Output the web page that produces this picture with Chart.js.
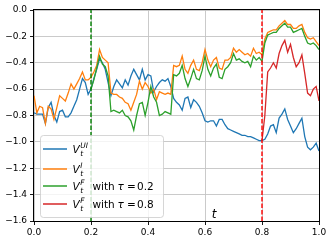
<!DOCTYPE html>
<html lang="en">
<head>
    <meta charset="UTF-8">
    <title>Value trajectories</title>
    <script src="https://cdn.jsdelivr.net/npm/chart.js"></script>
    <style>
        body { margin: 0; background: #fff; }
        canvas { display: block; }
    </style>
</head>
<body>
    <canvas id="valueChart" width="333" height="242"></canvas>

    <script>
        // time grid, step 0.01
        const tGrid = Array.from({ length: 101 }, (_, i) => i / 100);

        const vUI = [
            -0.78, -0.79, -0.79, -0.79, -0.86, -0.74, -0.70, -0.80, -0.85, -0.77,
            -0.76, -0.81, -0.81, -0.78, -0.73, -0.68, -0.60, -0.52, -0.55, -0.64,
            -0.60, -0.52, -0.45, -0.37, -0.40, -0.45, -0.55, -0.65, -0.58, -0.53,
            -0.56, -0.59, -0.53, -0.57, -0.50, -0.45, -0.49, -0.53, -0.45, -0.53,
            -0.49, -0.50, -0.62, -0.58, -0.55, -0.53, -0.54, -0.52, -0.58, -0.67,
            -0.70, -0.72, -0.76, -0.67, -0.66, -0.74, -0.68, -0.70, -0.73, -0.78,
            -0.84, -0.85, -0.84, -0.84, -0.88, -0.83, -0.83, -0.87, -0.90, -0.91,
            -0.92, -0.93, -0.94, -0.95, -0.95, -0.96, -0.96, -0.97, -0.98, -0.99,
            -0.99, -0.98, -0.94, -0.88, -0.87, -0.93, -0.82, -0.79, -0.75, -0.83,
            -0.88, -0.93, -0.90, -0.86, -0.82, -0.96, -1.04, -1.06, -1.04, -1.01, -1.07
        ];

        const vI = [
            -0.65, -0.78, -0.73, -0.74, -0.86, -0.73, -0.75, -0.83, -0.74, -0.65,
            -0.67, -0.69, -0.63, -0.56, -0.60, -0.56, -0.52, -0.47, -0.53, -0.53,
            -0.51, -0.47, -0.42, -0.30, -0.36, -0.38, -0.40, -0.63, -0.64, -0.64,
            -0.66, -0.67, -0.70, -0.71, -0.76, -0.70, -0.64, -0.54, -0.60, -0.55,
            -0.58, -0.63, -0.60, -0.68, -0.62, -0.63, -0.64, -0.63, -0.64, -0.42,
            -0.43, -0.42, -0.35, -0.45, -0.48, -0.42, -0.38, -0.45, -0.46, -0.40,
            -0.30, -0.38, -0.43, -0.38, -0.36, -0.44, -0.45, -0.38, -0.38, -0.36,
            -0.29, -0.32, -0.30, -0.32, -0.34, -0.33, -0.35, -0.29, -0.33, -0.32,
            -0.34, -0.22, -0.17, -0.16, -0.15, -0.15, -0.12, -0.10, -0.08, -0.11,
            -0.11, -0.14, -0.14, -0.12, -0.11, -0.17, -0.21, -0.22, -0.21, -0.24, -0.27
        ];

        // tau = 0.2, starts at t = 0.20
        const vF02 = [
            -0.60, -0.53, -0.44, -0.35, -0.41, -0.43, -0.50, -0.77, -0.76, -0.77,
            -0.78, -0.76, -0.80, -0.81, -0.84, -0.91, -0.80, -0.71, -0.70, -0.80,
            -0.70, -0.58, -0.66, -0.70, -0.80, -0.79, -0.77, -0.78, -0.79, -0.49,
            -0.50, -0.48, -0.42, -0.52, -0.58, -0.52, -0.45, -0.52, -0.53, -0.46,
            -0.35, -0.45, -0.50, -0.44, -0.41, -0.51, -0.52, -0.45, -0.43, -0.40,
            -0.33, -0.38, -0.37, -0.39, -0.40, -0.39, -0.43, -0.35, -0.38, -0.36,
            -0.39, -0.25, -0.19, -0.18, -0.17, -0.17, -0.14, -0.12, -0.10, -0.13,
            -0.13, -0.17, -0.16, -0.15, -0.14, -0.20, -0.25, -0.26, -0.25, -0.27, -0.30
        ];

        // tau = 0.8, starts at t = 0.80
        const vF08 = [
            -0.99, -0.80, -0.47, -0.44, -0.40, -0.44, -0.33, -0.27, -0.23, -0.32,
            -0.26, -0.36, -0.43, -0.40, -0.34, -0.48, -0.63, -0.65, -0.60, -0.58, -0.69
        ];

        const taus = [0.2, 0.8];
        const tauColors = ['#008000', '#ff0000'];
        const seriesColors = ['#1f77b4', '#ff7f0e', '#2ca02c', '#d62728'];
        const xTicks = [0, 0.2, 0.4, 0.6, 0.8, 1.0];
        const yRange = [-1.6, 0];

        function toPoints(values, start) {
            const offset = Math.round(start * 100);
            return values.map((v, i) => ({ x: tGrid[offset + i], y: v }));
        }

        function fmt(v) {
            if (Math.abs(v) < 1e-9) return '0.0';
            return (v < 0 ? '\u2212' : '') + Math.abs(v).toFixed(1);
        }

        const FONT = "'DejaVu Sans', sans-serif";

        // full box around the axes
        const framePlugin = {
            id: 'frame',
            afterDatasetsDraw(chart) {
                const { ctx, chartArea: a } = chart;
                ctx.save();
                ctx.strokeStyle = '#000';
                ctx.lineWidth = 1;
                ctx.strokeRect(a.left - 0.5, a.top - 0.5, a.right - a.left + 1, a.bottom - a.top + 1);
                ctx.restore();
            }
        };

        // legend with math labels, drawn like matplotlib's
        const mathLegend = {
            id: 'mathLegend',
            afterDraw(chart) {
                const ctx = chart.ctx;
                const rows = [
                    { color: seriesColors[0], sup: 'UI', y: 149 },
                    { color: seriesColors[1], sup: 'I', y: 169 },
                    { color: seriesColors[2], sup: 'F', y: 186, tau: '0.2' },
                    { color: seriesColors[3], sup: 'F', y: 204, tau: '0.8' }
                ];
                ctx.save();
                ctx.beginPath();
                ctx.roundRect(40.5, 135.5, 123, 82, 3);
                ctx.fillStyle = 'rgba(255,255,255,0.8)';
                ctx.fill();
                ctx.strokeStyle = 'rgba(204,204,204,0.8)';
                ctx.lineWidth = 1;
                ctx.stroke();

                rows.forEach(r => {
                    ctx.strokeStyle = r.color;
                    ctx.lineWidth = 1.5;
                    ctx.beginPath();
                    ctx.moveTo(43, r.y);
                    ctx.lineTo(67, r.y);
                    ctx.stroke();

                    const base = r.y + 4;
                    ctx.fillStyle = '#000';
                    ctx.textBaseline = 'alphabetic';
                    ctx.textAlign = 'left';
                    ctx.font = 'italic 10.5px ' + FONT;
                    ctx.fillText('V', 72.5, base);
                    const vx = 72.5 + ctx.measureText('V').width + 0.5;
                    ctx.font = 'italic 7.5px ' + FONT;
                    ctx.fillText(r.sup, vx, base - 5);
                    ctx.fillText('t', vx, base + 2.5);

                    if (r.tau) {
                        ctx.font = '10.5px ' + FONT;
                        ctx.fillText('with', 92.5, base);
                        ctx.font = 'italic 10.5px ' + FONT;
                        ctx.fillText('\u03c4', 117.5, base);
                        ctx.font = '10.5px ' + FONT;
                        ctx.fillText('=', 127, base);
                        ctx.fillText(r.tau, 137, base);
                    }
                });

                // axis label sits inside the plot
                ctx.font = 'italic 12px ' + FONT;
                ctx.textAlign = 'center';
                ctx.fillText('t', 214, 218);
                ctx.restore();
            }
        };

        Chart.defaults.font.family = FONT;
        Chart.defaults.font.size = 9;
        Chart.defaults.color = '#000';

        const vlineSets = taus.map((tau, i) => ({
            data: [{ x: tau, y: yRange[0] }, { x: tau, y: yRange[1] }],
            borderColor: tauColors[i],
            borderWidth: 1.4,
            borderDash: [4.5, 2],
            pointRadius: 0,
            order: 0
        }));

        const ctx = document.getElementById('valueChart').getContext('2d');
        new Chart(ctx, {
            type: 'line',
            data: {
                datasets: [
                    { data: toPoints(vUI, 0), borderColor: seriesColors[0], order: 4 },
                    { data: toPoints(vI, 0), borderColor: seriesColors[1], order: 3 },
                    { data: toPoints(vF02, taus[0]), borderColor: seriesColors[2], order: 2 },
                    { data: toPoints(vF08, taus[1]), borderColor: seriesColors[3], order: 1 },
                    ...vlineSets
                ]
            },
            options: {
                responsive: false,
                animation: false,
                layout: { padding: { left: 0, right: 14, top: 10, bottom: 0 } },
                elements: {
                    line: { borderWidth: 1.3, tension: 0, fill: false },
                    point: { radius: 0 }
                },
                plugins: {
                    legend: { display: false },
                    tooltip: { enabled: false }
                },
                scales: {
                    x: {
                        type: 'linear',
                        min: 0,
                        max: 1,
                        afterFit(scale) { scale.height = 21; },
                        afterBuildTicks(scale) { scale.ticks = xTicks.map(v => ({ value: v })); },
                        ticks: { callback: v => fmt(v), padding: 2, maxRotation: 0 },
                        grid: { color: '#c4c4c4', lineWidth: 0.9, tickLength: 4, tickColor: '#000' },
                        border: { display: false }
                    },
                    y: {
                        min: yRange[0],
                        max: yRange[1],
                        afterFit(scale) { scale.width = 34; },
                        ticks: { stepSize: 0.2, callback: v => fmt(v), padding: 3 },
                        grid: { color: '#c4c4c4', lineWidth: 0.9, tickLength: 4, tickColor: '#000' },
                        border: { display: false }
                    }
                }
            },
            plugins: [framePlugin, mathLegend]
        });
    </script>
</body>
</html>
